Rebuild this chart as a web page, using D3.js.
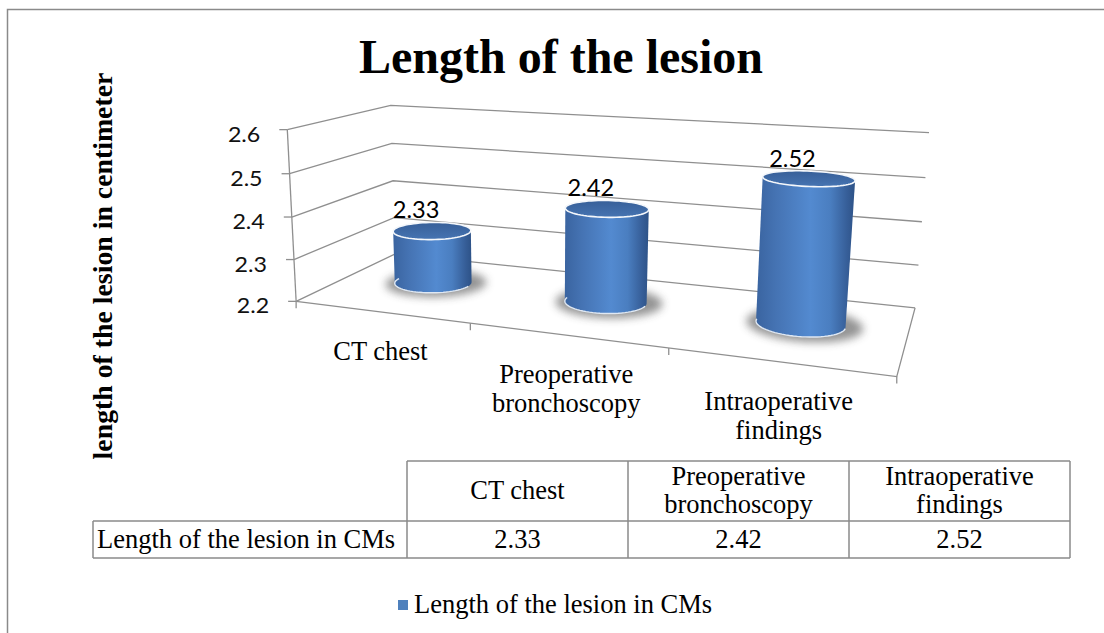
<!DOCTYPE html>
<html>
<head>
<meta charset="utf-8">
<script src="https://cdn.jsdelivr.net/npm/d3@7"></script>
<style>
  body { margin: 0; background: #fff; }
  svg { display: block; }
</style>
</head>
<body>
<div id="chart"></div>
<script>
// data
var categories = ["CT chest", "Preoperative bronchoscopy", "Intraoperative findings"];
var catLines = [["CT chest"], ["Preoperative", "bronchoscopy"], ["Intraoperative", "findings"]];
var values = [2.33, 2.42, 2.52];
var yTicks = [2.2, 2.3, 2.4, 2.5, 2.6];
var seriesName = "Length of the lesion in CMs";
var chartTitle = "Length of the lesion";
var yTitle = "length of the lesion in centimeter";

var W = 1104, H = 633;
var svg = d3.select("#chart").append("svg")
  .attr("width", W).attr("height", H);

var serif = "'Liberation Serif', 'Times New Roman', serif";
var sans = "Lato, 'Open Sans', sans-serif";
var gridColor = "#8f8f8f";

// perspective camera fitted to where the box corners sit on screen
// each entry: [u (across), v (height), w (depth), screenX, screenY]
var anchors = [
  [0, 0, 0, 298, 300], [1, 0, 0, 897, 378], [1, 0, 1, 915, 306], [0, 0, 1, 393, 256],
  [0, 1, 0, 285, 130], [0, 1, 1, 393, 105], [1, 1, 1, 928, 133],
  [1/3, 0, 0, 471, 323], [2/3, 0, 0, 668, 348],
  [0, .5, 0, 292, 217], [0, .5, 1, 393, 180], [1, .5, 1, 923, 222]
];

function fitCamera(pts) {
  var A = [], b = [], s = 1000;
  pts.forEach(function(p) {
    var X = p[0], Y = p[1], Z = p[2], x = p[3] / s, y = p[4] / s;
    A.push([X, Y, Z, 1, 0, 0, 0, 0, -x*X, -x*Y, -x*Z]); b.push(x);
    A.push([0, 0, 0, 0, X, Y, Z, 1, -y*X, -y*Y, -y*Z]); b.push(y);
  });
  var n = 11, M = [];
  for (var i = 0; i < n; i++) {
    var row = [];
    for (var j = 0; j < n; j++) {
      var sum = 0;
      for (var k = 0; k < A.length; k++) sum += A[k][i] * A[k][j];
      row.push(sum);
    }
    var sb = 0;
    for (var k2 = 0; k2 < A.length; k2++) sb += A[k2][i] * b[k2];
    row.push(sb);
    M.push(row);
  }
  for (var c = 0; c < n; c++) {
    var piv = c;
    for (var r = c + 1; r < n; r++) if (Math.abs(M[r][c]) > Math.abs(M[piv][c])) piv = r;
    var tmp = M[c]; M[c] = M[piv]; M[piv] = tmp;
    for (var r2 = 0; r2 < n; r2++) {
      if (r2 === c) continue;
      var f = M[r2][c] / M[c][c];
      for (var kk = c; kk <= n; kk++) M[r2][kk] -= f * M[c][kk];
    }
  }
  var p = M.map(function(row, i) { return row[n] / row[i]; });
  return function(u, v, w) {
    var d = p[8]*u + p[9]*v + p[10]*w + 1;
    return [s * (p[0]*u + p[1]*v + p[2]*w + p[3]) / d,
            s * (p[4]*u + p[5]*v + p[6]*w + p[7]) / d];
  };
}
var project = fitCamera(anchors);

// scales
var x = d3.scaleBand().domain(categories).range([0, 1]);
var y = d3.scaleLinear().domain([2.2, 2.6]).range([0, 1]);

// defs
var defs = svg.append("defs");
var bodyGrad = defs.append("linearGradient").attr("id", "bodyGrad")
  .attr("x1", "0%").attr("x2", "100%").attr("y1", "0%").attr("y2", "0%");
[["0%", "#3a64a0"], ["20%", "#4573b3"], ["55%", "#538ad0"], ["75%", "#4a7ec0"], ["92%", "#365e98"], ["100%", "#2d5287"]]
  .forEach(function(s) { bodyGrad.append("stop").attr("offset", s[0]).attr("stop-color", s[1]); });
var topGrad = defs.append("linearGradient").attr("id", "topGrad")
  .attr("x1", "0%").attr("x2", "0%").attr("y1", "0%").attr("y2", "100%");
[["0%", "#375f98"], ["100%", "#4674b2"]]
  .forEach(function(s) { topGrad.append("stop").attr("offset", s[0]).attr("stop-color", s[1]); });
defs.append("filter").attr("id", "soft")
  .attr("x", "-50%").attr("y", "-50%").attr("width", "200%").attr("height", "200%")
  .append("feGaussianBlur").attr("stdDeviation", 4);

// outer frame
svg.append("rect")
  .attr("x", 7.5).attr("y", 9.5).attr("width", W + 20).attr("height", H + 20)
  .attr("fill", "none").attr("stroke", "#8a8a8a").attr("stroke-width", 1.5);

// title
svg.append("text")
  .attr("x", 561).attr("y", 73)
  .attr("text-anchor", "middle")
  .style("font-family", serif).style("font-weight", "bold").style("font-size", "48px")
  .text(chartTitle);

// y axis title
svg.append("text")
  .attr("transform", "translate(112,266) rotate(-90)")
  .attr("text-anchor", "middle")
  .style("font-family", serif).style("font-weight", "bold").style("font-size", "27.8px")
  .text(yTitle);

var line = d3.line();
var axes = svg.append("g").attr("fill", "none").attr("stroke", gridColor).attr("stroke-width", 1.3);

// gridlines on side wall and back wall
yTicks.forEach(function(t) {
  var v = y(t);
  axes.append("path")
    .attr("d", line([project(0, v, 0), project(0, v, 1), project(1, v, 1)]));
});

// vertical axis line + ticks
axes.append("path").attr("d", line([project(0, 0, 0), project(0, 1, 0)]));
yTicks.forEach(function(t) {
  var p = project(0, y(t), 0);
  axes.append("path").attr("d", line([[p[0] - 8, p[1]], p]));
});

// floor front and right edges + category ticks
axes.append("path").attr("d", line([project(0, 0, 0), project(1, 0, 0), project(1, 0, 1)]));
var bounds = categories.map(function(c) { return x(c); }).concat([1]);
bounds.forEach(function(u) {
  var p = project(u, 0, 0);
  axes.append("path").attr("d", line([p, [p[0], p[1] + 7]]));
});

// y tick labels
yTicks.forEach(function(t) {
  var p = project(0, y(t), 0);
  svg.append("text")
    .attr("transform", "translate(" + (p[0] - 27) + "," + (p[1] + 12) + ") scale(1.08,1)")
    .attr("text-anchor", "end")
    .attr("fill", "#111")
    .style("font-family", sans).style("font-size", "21.5px")
    .text(d3.format(".1f")(t));
});

// category labels under the floor
categories.forEach(function(c, i) {
  var uc = x(c) + x.bandwidth() / 2;
  var p = project(uc, 0, 0);
  var t = svg.append("text")
    .attr("text-anchor", "middle")
    .style("font-family", serif).style("font-size", "26.5px");
  catLines[i].forEach(function(l, j) {
    t.append("tspan").attr("x", p[0]).attr("y", p[1] + 48 + j * 29).text(l);
  });
});

// cylinders
var ru = 0.071, rw = 0.19, w0 = 0.55, nSeg = 72;
function ring(uc, v, sx, sw) {
  return d3.range(nSeg).map(function(k) {
    var a = 2 * Math.PI * k / nSeg;
    return project(uc + ru * sx * Math.cos(a), v, w0 + rw * sw * Math.sin(a));
  });
}
var bars = svg.append("g");
categories.forEach(function(c, i) {
  var uc = x(c) + x.bandwidth() / 2;
  var vt = y(values[i]);
  var bottom = ring(uc, 0, 1, 1);
  var top = ring(uc, vt, 1, 1);
  var shadow = ring(uc + 0.006, 0, 1.3, 1.35);

  bars.append("path")
    .attr("d", line.curve(d3.curveLinearClosed)(shadow))
    .attr("fill", "#3c3c3c").attr("opacity", 0.55)
    .attr("filter", "url(#soft)");

  bars.append("path")
    .attr("d", line.curve(d3.curveLinearClosed)(d3.polygonHull(top.concat(bottom))))
    .attr("fill", "url(#bodyGrad)");

  // light rim on the front of the base
  var front = bottom.filter(function(p, k) { return k >= nSeg / 2; });
  bars.append("path")
    .attr("d", d3.line()(front.concat([bottom[0]])))
    .attr("fill", "none").attr("stroke", "#dfe8f3").attr("stroke-width", 1.4);

  bars.append("path")
    .attr("d", line.curve(d3.curveLinearClosed)(top))
    .attr("fill", "url(#topGrad)")
    .attr("stroke", "#f4f7fb").attr("stroke-width", 1.6);

  var pc = project(uc, vt, w0);
  var topY = d3.min(top, function(p) { return p[1]; });
  svg.append("text")
    .attr("transform", "translate(" + (pc[0] - 16) + "," + (topY - 4) + ") scale(1.05,1)")
    .attr("text-anchor", "middle")
    .style("font-family", sans).style("font-size", "22.5px")
    .text(d3.format(".2f")(values[i]));
});

// data table
var tbl = { left: 93, col0: 407, top: 461, mid: 521, bottom: 558, colW: 221 };
var colX = categories.map(function(c, i) { return tbl.col0 + i * tbl.colW; });
var right = tbl.col0 + categories.length * tbl.colW;
var tg = svg.append("g").attr("stroke", "#8a8a8a").attr("stroke-width", 1.5).attr("fill", "none");
var seg = d3.line();
tg.append("path").attr("d", seg([[tbl.col0, tbl.top], [right, tbl.top]]));
tg.append("path").attr("d", seg([[tbl.left, tbl.mid], [right, tbl.mid]]));
tg.append("path").attr("d", seg([[tbl.left, tbl.bottom], [right, tbl.bottom]]));
tg.append("path").attr("d", seg([[tbl.left, tbl.mid], [tbl.left, tbl.bottom]]));
colX.concat([right]).forEach(function(cx) {
  tg.append("path").attr("d", seg([[cx, tbl.top], [cx, tbl.bottom]]));
});

categories.forEach(function(c, i) {
  var cx = colX[i] + tbl.colW / 2;
  var lines = catLines[i];
  var t = svg.append("text").attr("text-anchor", "middle")
    .style("font-family", serif).style("font-size", "26.5px");
  var y0 = lines.length === 1 ? 499 : 485;
  lines.forEach(function(l, j) {
    t.append("tspan").attr("x", cx).attr("y", y0 + j * 28).text(l);
  });
  svg.append("text")
    .attr("x", cx).attr("y", 548)
    .attr("text-anchor", "middle")
    .style("font-family", serif).style("font-size", "26.5px")
    .text(d3.format(".2f")(values[i]));
});
svg.append("text")
  .attr("x", 97).attr("y", 548)
  .style("font-family", serif).style("font-size", "26.5px")
  .text(seriesName);

// legend
svg.append("rect")
  .attr("x", 398).attr("y", 600).attr("width", 10).attr("height", 10)
  .attr("fill", "#4f81bd");
svg.append("text")
  .attr("x", 414).attr("y", 613)
  .style("font-family", serif).style("font-size", "26.5px")
  .text(seriesName);
</script>
</body>
</html>
